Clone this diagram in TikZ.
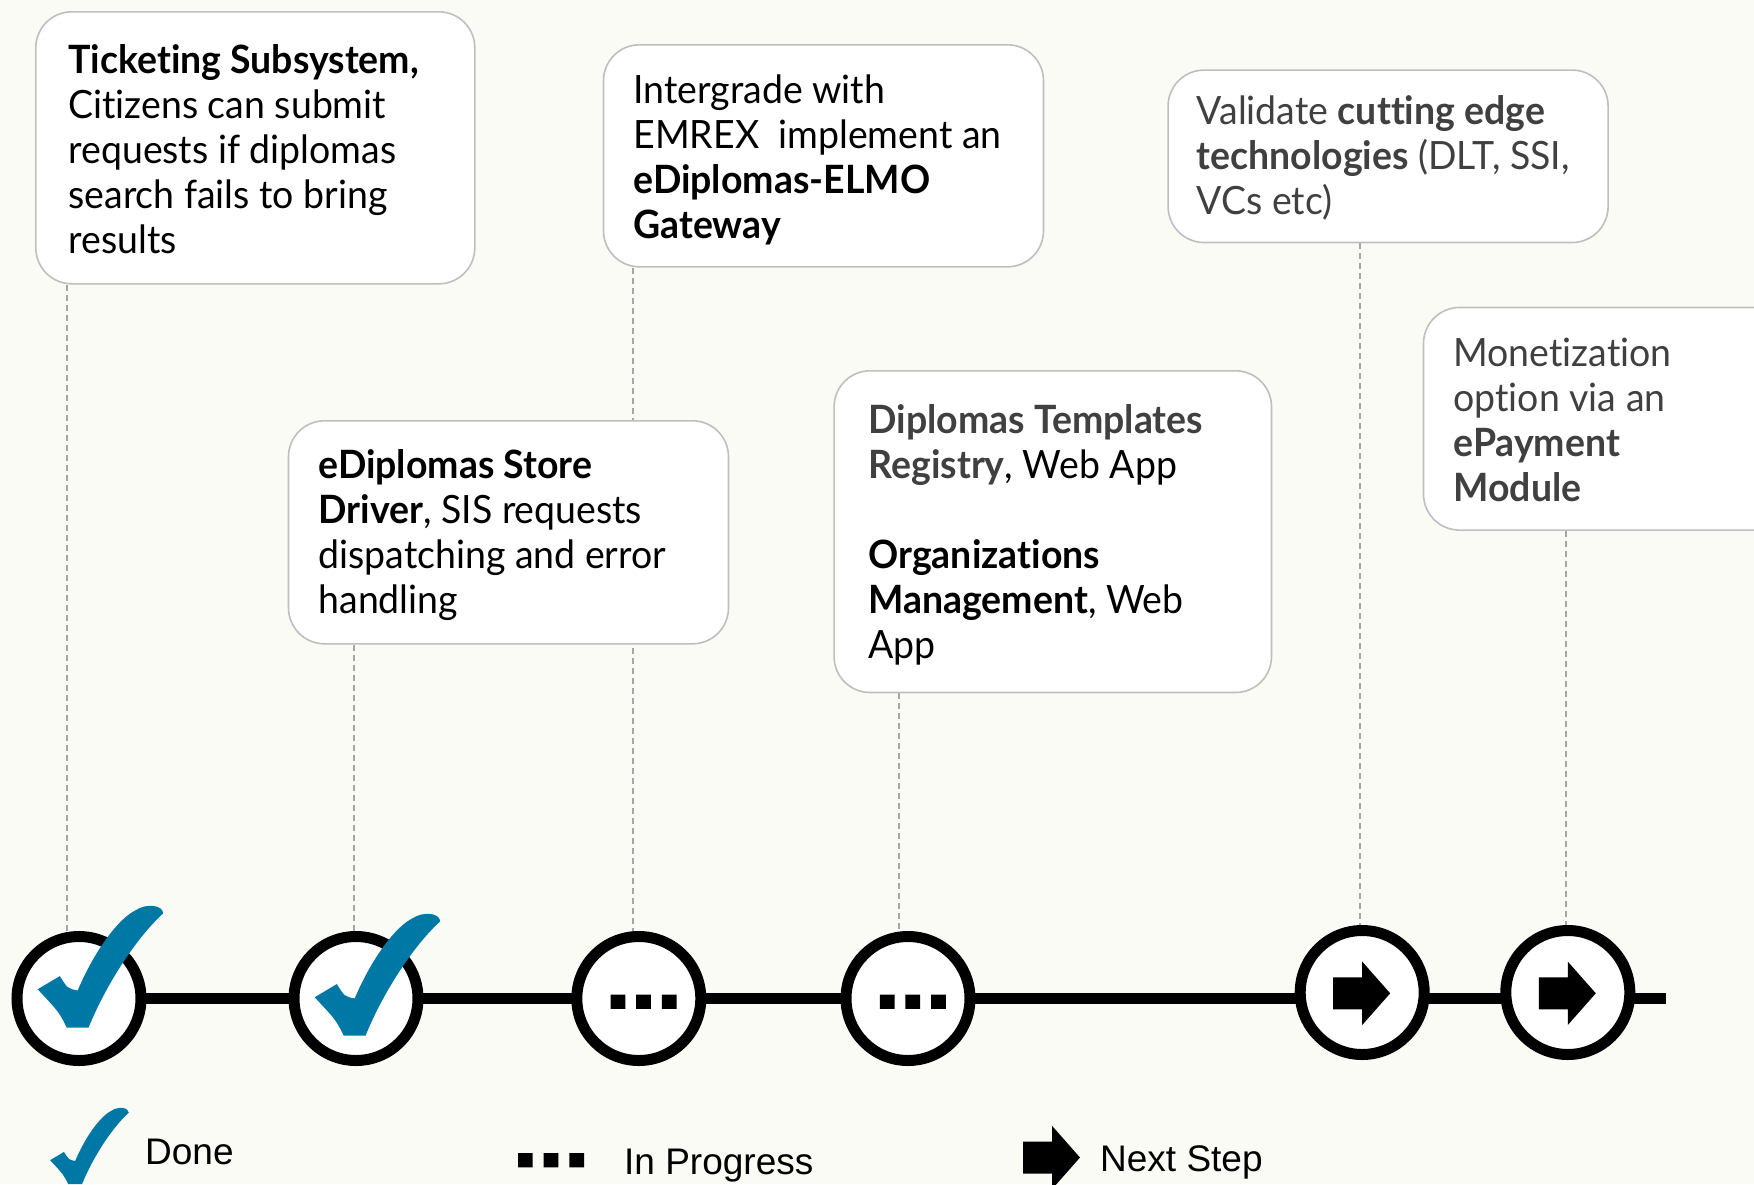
\documentclass[tikz,border=0pt]{standalone}
\usepackage{fontspec}
\setmainfont{Lato}[FakeStretch=0.96, Ligatures=NoCommon]
\newfontfamily\legendfont{Liberation Sans}
\definecolor{bgc}{RGB}{250,251,245}
\definecolor{tickblue}{RGB}{0,120,166}
\definecolor{darktxt}{RGB}{64,64,64}
\definecolor{boxline}{RGB}{191,191,191}
\definecolor{dashc}{RGB}{166,166,166}
\pgfdeclarelayer{backdrop}
\pgfdeclarelayer{bg}
\pgfsetlayers{backdrop,bg,main}
\tikzset{
  box/.style={draw=boxline, line width=1.6pt, fill=white, rounded corners=36pt,
    anchor=north west, inner sep=0pt, minimum width=440pt},
  txt/.style={anchor=base west, inner sep=0pt, font=\fontsize{39}{45}\selectfont},
  milestone/.style={circle, draw=black, line width=11pt, fill=white, minimum size=124pt, inner sep=0pt},
  track/.style={line width=11pt, draw=black},
  conn/.style={draw=dashc, line width=1.5pt, dash pattern=on 6pt off 4pt},
  legendtxt/.style={anchor=base west, inner sep=0pt, font=\legendfont\fontsize{37}{40}\selectfont},
  donemark/.pic={\fill[tickblue] (-0.617,-0.138) -- (-0.286,-0.335)
      .. controls (-0.17,-0.15) .. (-0.02,-0.12)
      .. controls (0.25,-0.75) and (0.6,-1.2) .. (0.85,-1.32)
      .. controls (1.0,-1.42) and (1.25,-1.40) .. (1.257,-1.271)
      .. controls (0.85,-0.9) and (0.4,-0.2) .. (0.143,0.433)
      -- (-0.183,0.433)
      .. controls (-0.3,0.2) .. (-0.617,-0.138) -- cycle;},
  dotsmark/.pic={\fill[black] (-28.2,-4) rectangle ++(14.7,14.4)
      (-2.6,-4) rectangle ++(14.7,14.4)
      (23.1,-4) rectangle ++(14.7,14.4);},
  arrowmark/.pic={\fill[black] (-29,-16) -- (0,-16) -- (0,-31.7) -- (28,0) -- (0,31.7) -- (0,16) -- (-29,16) -- cycle;}
}
\begin{document}
\begin{tikzpicture}[x=1pt,y=-1pt]
\useasboundingbox (0,0) rectangle (1754,1184);
\clip (0,0) rectangle (1754,1184);
\begin{pgfonlayer}{backdrop}
\fill[bgc] (0,0) rectangle (1754,1184);
\end{pgfonlayer}

% boxes
\node[box, minimum width=439pt, minimum height=272pt] (b1) at (35,11) {};
\node[box, minimum height=222pt] (b2) at (602.7,44) {};
\node[box, minimum height=223pt] (b3) at (287.7,420) {};
\node[box, minimum width=437.4pt, minimum height=321.7pt] (b4) at (833.3,370) {};
\node[box, minimum height=172.4pt] (b5) at (1167.3,69.3) {};
\node[box, minimum height=222.6pt] (b6) at (1422.7,306.7) {};

% texts
\node[txt] (t1) at ([xshift=33.3pt,yshift=-62.5pt]b1.north west) {\parbox[t]{430pt}{\raggedright
  \textbf{Ticketing Subsystem,}\\Citizens can submit\\requests if diplomas\\search fails to bring\\results}};
\node[txt] (t2) at ([xshift=30.6pt,yshift=-59.4pt]b2.north west) {\parbox[t]{430pt}{\raggedright
  Intergrade with\\EMREX\ \ implement an\\\textbf{eDiplomas-ELMO}\\\textbf{Gateway}}};
\node[txt] (t3) at ([xshift=30.6pt,yshift=-58.3pt]b3.north west) {\parbox[t]{430pt}{\raggedright
  \textbf{eDiplomas Store}\\\textbf{Driver}, SIS requests\\dispatching and error\\handling}};
\node[txt] (t4) at ([xshift=35pt,yshift=-63.3pt]b4.north west) {\parbox[t]{430pt}{\raggedright\leavevmode
  {\color{darktxt}\textbf{Diplomas Templates}}\\{\color{darktxt}\textbf{Registry}}, Web App\\[\baselineskip]
  \textbf{Organizations}\\\textbf{Management}, Web\\App}};
\node[txt, text=darktxt] (t5) at ([xshift=29.4pt,yshift=-55pt]b5.north west) {\parbox[t]{430pt}{\raggedright
  Validate \textbf{cutting edge}\\\textbf{technologies} (DLT, SSI,\\VCs etc)}};
\node[txt, text=darktxt] (t6) at ([xshift=30.6pt,yshift=-60pt]b6.north west) {\parbox[t]{430pt}{\raggedright
  Monetization\\option via an\\\textbf{ePayment}\\\textbf{Module}}};

% milestones
\node[milestone] (c1) at (79,998.5) {};
\node[milestone] (c2) at (356,998.5) {};
\node[milestone] (c3) at (638.8,998.5) {};
\node[milestone] (c4) at (908,998.5) {};
\node[milestone] (c5) at (1362.2,992.5) {};
\node[milestone] (c6) at (1567.8,992.5) {};
\coordinate (tend) at (1666,998.5);

\pic[scale=67] at (c1) {donemark};
\pic[scale=67] at ([yshift=-8pt]c2.center) {donemark};
\pic at (c3) {dotsmark};
\pic at (c4) {dotsmark};
\pic at ([yshift=-0.8pt]c5.center) {arrowmark};
\pic at ([yshift=-0.8pt]c6.center) {arrowmark};

% connectors behind
\coordinate (k1) at ([xshift=-12pt]c1.center);
\coordinate (k2) at ([xshift=-2pt]c2.center);
\coordinate (k3) at ([xshift=-6pt]c3.center);
\coordinate (k4) at ([xshift=-9pt]c4.center);
\coordinate (k5) at ([xshift=-2pt]c5.center);
\coordinate (k6) at ([xshift=-2pt]c6.center);
\begin{pgfonlayer}{bg}
  \draw[track] (c1.center) -- (tend);
  \draw[conn] (b1.south -| k1) -- (k1);
  \draw[conn] (b3.south -| k2) -- (k2);
  \draw[conn] (b2.south -| k3) -- (k3);
  \draw[conn] (b4.south -| k4) -- (k4);
  \draw[conn] (b5.south -| k5) -- (k5);
  \draw[conn] (b6.south -| k6) -- (k6);
\end{pgfonlayer}

% legend
\coordinate (lg1) at (76,1166);
\coordinate (lg2) at (546.2,1157);
\coordinate (lg3) at (1052,1157.5);
\pic[scale=42] at (lg1) {donemark};
\pic at (lg2) {dotsmark};
\pic at (lg3) {arrowmark};
\node[legendtxt] (ldone) at (145,1164) {Done};
\node[legendtxt] (lprog) at (624,1174) {In Progress};
\node[legendtxt] (lnext) at (1100,1171) {Next Step};
\end{tikzpicture}
\end{document}
